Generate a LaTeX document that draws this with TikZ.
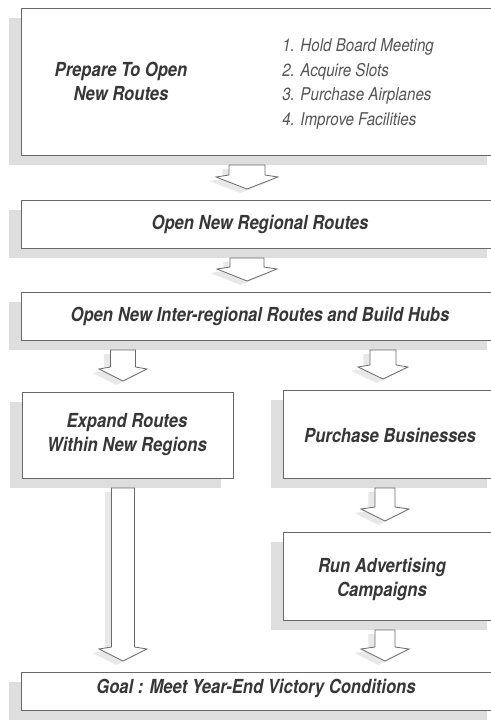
\documentclass[tikz,border=0pt]{standalone}
\usepackage{fontspec}
\setmainfont{TeX Gyre Heros}[FakeStretch=0.86]
\usetikzlibrary{calc,shadows}

\definecolor{shade}{RGB}{222,222,222}
\definecolor{edge}{RGB}{105,105,105}
\definecolor{ink}{RGB}{55,55,55}

\tikzset{
	stage/.style={draw=edge, line width=0.6pt, fill=white, inner sep=0pt, outer sep=0pt,
		general shadow={fill=shade, shadow xshift=-9pt, shadow yshift=-7.5pt}},
	fatarrow/.style={draw=edge, line width=0.6pt, fill=white, line join=miter,
		general shadow={fill=shade!70, shadow xshift=-5pt, shadow yshift=-3pt}},
	title/.style={font=\fontsize{14.5}{18}\selectfont\bfseries\itshape, text=ink, align=center, inner sep=0pt},
	steps/.style={font=\fontsize{13.2}{18.4}\selectfont\itshape, text=ink!85, align=left, inner sep=0pt},
}

% x, shaft half width, head half width, from node, to node
\newcommand{\blockarrow}[5]{%
	\draw[fatarrow] ($(#1,0 |- #4.south)+(-#2,10)$)
		-- ($(#1,0 |- #5.north)+(-#2,-25)$)
		-- ($(#1,0 |- #5.north)+(-#3,-23)$)
		-- ($(#1,0 |- #5.north)+(0,-11)$)
		-- ($(#1,0 |- #5.north)+(#3,-23)$)
		-- ($(#1,0 |- #5.north)+(#2,-25)$)
		-- ($(#1,0 |- #4.south)+(#2,10)$) -- cycle;}

\begin{document}
\begin{tikzpicture}[x=0.75pt,y=0.75pt,yscale=-1,xscale=1]
	\useasboundingbox (0,0) rectangle (491,722);
	\clip (0,0) rectangle (491,722);
	% boxes
	\node[stage, minimum width=358.5pt, minimum height=110.25pt] (prep) at (260,81.5) {};
	\node[stage, minimum width=358.5pt, minimum height=36pt] (regional) at (260,224) {};
	\node[stage, minimum width=358.5pt, minimum height=36pt] (hubs) at (260,316) {};
	\node[stage, minimum width=158.25pt, minimum height=64.5pt] (expand) at (127.5,435) {};
	\node[stage, minimum width=162pt, minimum height=66pt] (purchase) at (391,434) {};
	\node[stage, minimum width=162pt, minimum height=66pt] (advert) at (391,576) {};
	\node[stage, minimum width=358.5pt, minimum height=28.5pt] (goal) at (260,691) {};
	% texts
	\node[title] (preptext) at (121,81) {Prepare To Open\\New Routes};
	\node[steps, anchor=west] (steplist) at (282,84) {1. Hold Board Meeting\\2. Acquire Slots\\3. Purchase Airplanes\\4. Improve Facilities};
	\node[title] (regtext) at (260,224) {Open New Regional Routes};
	\node[title] (hubtext) at (260,316) {Open New Inter-regional Routes and Build Hubs};
	\node[title] (exptext) at (127,435) {Expand Routes\\Within New Regions};
	\node[title] (buytext) at (390,435) {Purchase Businesses};
	\node[title] (adtext) at (382,579) {Run Advertising\\Campaigns};
	\node[title] (goaltext) at (256,688) {Goal : Meet Year-End Victory Conditions};
	% arrows
	\blockarrow{247}{18}{31}{prep}{regional}
	\blockarrow{247}{17}{30}{regional}{hubs}
	\blockarrow{123}{12.5}{24}{hubs}{expand}
	\blockarrow{383}{13}{25}{hubs}{purchase}
	\blockarrow{123}{11.5}{24}{expand}{goal}
	\blockarrow{385}{10}{24}{purchase}{advert}
	\blockarrow{385}{10}{24}{advert}{goal}
\end{tikzpicture}
\end{document}
